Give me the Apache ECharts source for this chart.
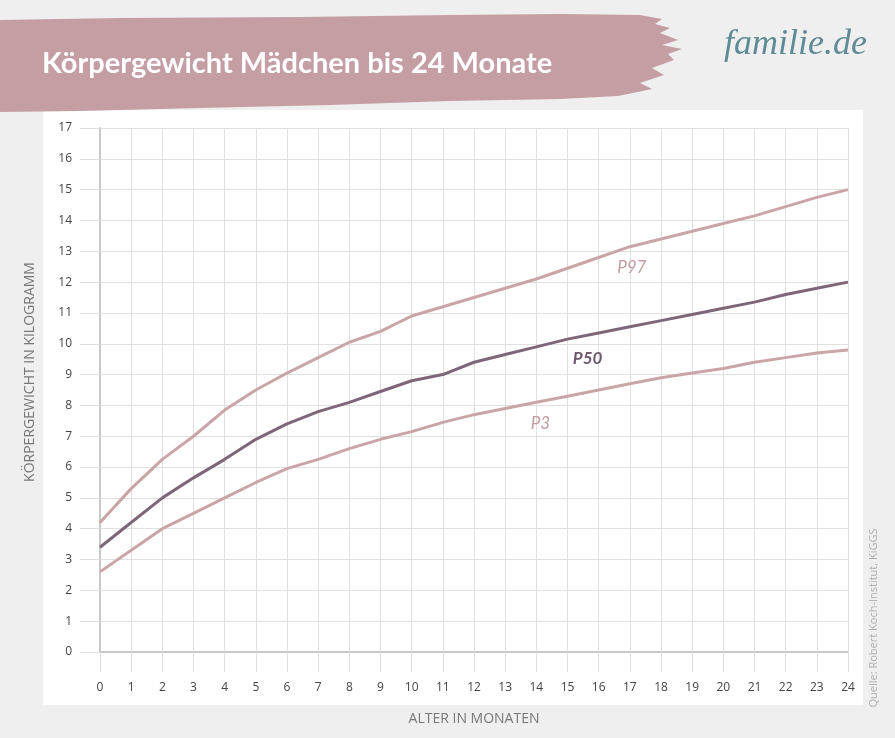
<!DOCTYPE html>
<html>
<head>
<meta charset="utf-8">
<script src="https://cdn.jsdelivr.net/npm/echarts@6/dist/echarts.min.js"></script>
<style>
html,body{margin:0;padding:0;background:#efefef;}
#chart{width:895px;height:738px;}
</style>
</head>
<body>
<div id="chart"></div>
<script>
var months = [0,1,2,3,4,5,6,7,8,9,10,11,12,13,14,15,16,17,18,19,20,21,22,23,24];
var p97 = [4.2,5.3,6.25,7.0,7.85,8.5,9.05,9.55,10.05,10.4,10.9,11.2,11.5,11.8,12.1,12.45,12.8,13.15,13.4,13.65,13.9,14.15,14.45,14.75,15.0];
var p50 = [3.4,4.2,5.0,5.65,6.25,6.9,7.4,7.8,8.1,8.45,8.8,9.0,9.4,9.65,9.9,10.15,10.35,10.55,10.75,10.95,11.15,11.35,11.6,11.8,12.0];
var p3  = [2.6,3.3,4.0,4.5,5.0,5.5,5.95,6.25,6.6,6.9,7.15,7.45,7.7,7.9,8.1,8.3,8.5,8.7,8.9,9.05,9.2,9.4,9.55,9.7,9.8];
var seriesNames = ['P97','P50','P3'];
var labelIndex = [17,16,14];

var title = 'Körpergewicht Mädchen bis 24 Monate';
var xTitle = 'ALTER IN MONATEN';
var yTitle = 'KÖRPERGEWICHT IN KILOGRAMM';
var source = 'Quelle: Robert Koch-Institut, KiGGS';

function build(vals, idx, name, color, offset, weight) {
  return months.map(function(m, i) {
    var d = {value: [m, vals[i]]};
    if (i === idx) {
      d.label = {show: true, formatter: name, position: 'bottom', distance: 8, offset: offset,
        color: color, fontSize: 17, fontFamily: 'Lato', fontWeight: weight, fontStyle: 'italic', opacity: 1};
    }
    return d;
  });
}

var chart = echarts.init(document.getElementById('chart'), null, {renderer: 'canvas'});
var lineDefaults = {type: 'line', symbol: 'circle', symbolSize: 0, showSymbol: true, silent: true, z: 5};
var option = {
  backgroundColor: '#efefef',
  animation: false,
  grid: {left: 100, right: 47, top: 128, bottom: 86},
  graphic: [
    {type: 'rect', shape: {x: 43, y: 110, width: 820, height: 595}, style: {fill: '#ffffff'}, z: -10},
    {type: 'polygon', z: 1, shape: {points: [
      [0,20],[120,18],[300,17],[450,15],[560,14],[640,15],[662,19],[655,24],[670,28],[660,33],
      [678,40],[662,45],[682,49],[668,54],[674,60],[652,68],[664,75],[640,83],[652,89],[618,96],
      [560,99],[450,101],[330,105],[200,108],[80,111],[0,112]
    ]}, style: {fill: '#c49ea3'}},
    {type: 'text', z: 2, style: {text: title, x: 42, y: 64, verticalAlign: 'middle',
      fill: '#ffffff', font: 'bold 29px Lato'}},
    {type: 'text', z: 2, style: {text: 'familie.de', x: 724, y: 45, verticalAlign: 'middle',
      fill: '#5e8b96', font: 'italic 36px "Liberation Serif"'}},
    {type: 'text', z: 2, style: {text: xTitle, x: 474, y: 719, align: 'center', verticalAlign: 'middle',
      fill: '#777777', font: '14px "Open Sans"'}},
    {type: 'text', z: 2, rotation: Math.PI / 2, x: 30, y: 372,
      style: {text: yTitle, x: 0, y: 0, align: 'center', verticalAlign: 'middle',
      fill: '#777777', font: '14px "Open Sans"'}},
    {type: 'text', z: 2, rotation: Math.PI / 2, x: 874, y: 618,
      style: {text: source, x: 0, y: 0, align: 'center', verticalAlign: 'middle',
      fill: '#b0b0b0', font: '11px "Open Sans"'}}
  ],
  xAxis: {
    type: 'value', min: 0, max: 24, interval: 1,
    axisLine: {show: true, onZero: false, lineStyle: {color: '#c8c8c8', width: 2}},
    axisTick: {show: true, length: 20, lineStyle: {color: '#dedede', width: 1}},
    splitLine: {show: true, lineStyle: {color: '#e0e0e0', width: 1}},
    axisLabel: {margin: 30, color: '#444444', fontSize: 12, fontFamily: 'Open Sans'}
  },
  yAxis: {
    type: 'value', min: 0, max: 17, interval: 1,
    axisLine: {show: true, onZero: false, lineStyle: {color: '#c8c8c8', width: 2}},
    axisTick: {show: true, length: 20, lineStyle: {color: '#dedede', width: 1}},
    splitLine: {show: true, lineStyle: {color: '#e0e0e0', width: 1}},
    axisLabel: {margin: 28, color: '#444444', fontSize: 12, fontFamily: 'Open Sans'}
  },
  series: [
    Object.assign({}, lineDefaults, {name: seriesNames[0], data: build(p97, labelIndex[0], seriesNames[0], '#c39ca1', [2, 4], 'normal'),
      itemStyle: {color: '#caa5a8'}, lineStyle: {color: '#caa5a8', width: 3}}),
    Object.assign({}, lineDefaults, {name: seriesNames[1], data: build(p50, labelIndex[1], seriesNames[1], '#6e5a6c', [-11, 9], 'bold'),
      itemStyle: {color: '#7e6679'}, lineStyle: {color: '#7e6679', width: 3}}),
    Object.assign({}, lineDefaults, {name: seriesNames[2], data: build(p3, labelIndex[2], seriesNames[2], '#c39ca1', [4, 5], 'normal'),
      itemStyle: {color: '#caa5a8'}, lineStyle: {color: '#caa5a8', width: 3}})
  ]
};
chart.setOption(option);
</script>
</body>
</html>
